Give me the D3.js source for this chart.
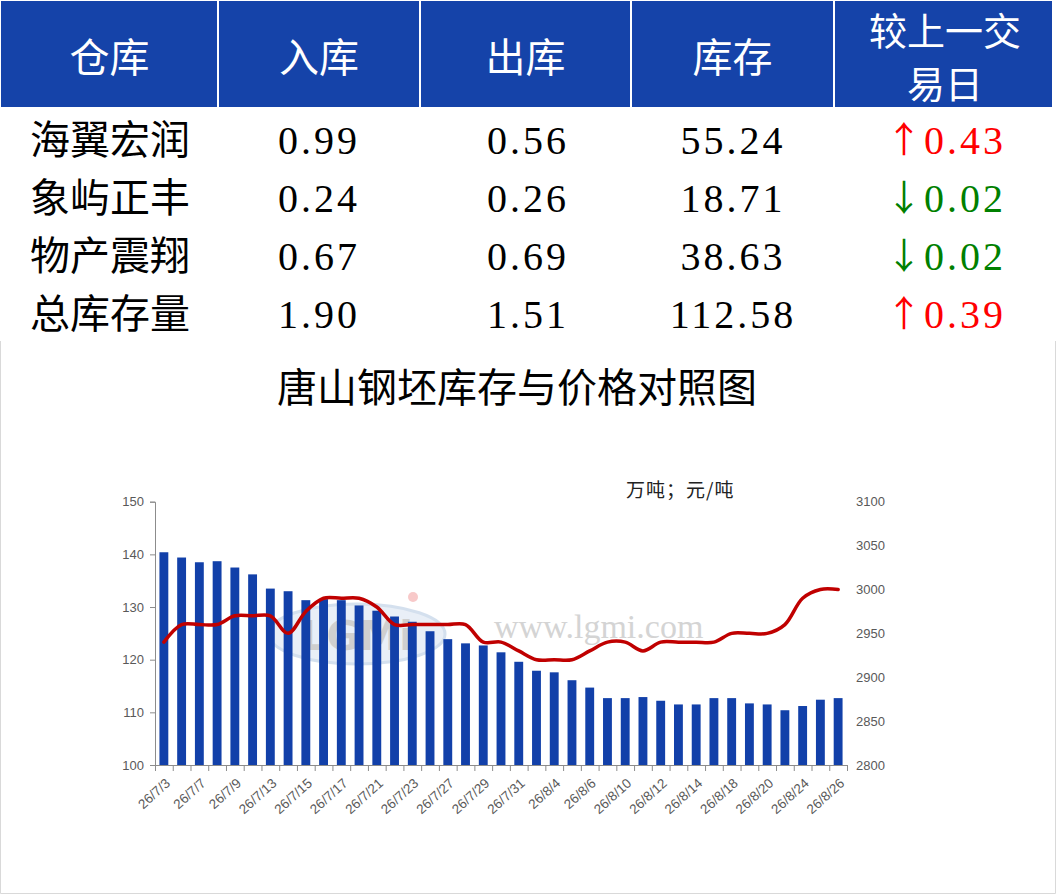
<!DOCTYPE html>
<html>
<head>
<meta charset="utf-8">
<script src="https://cdn.jsdelivr.net/npm/d3@7"></script>
<style>
  body { margin: 0; background: #fff; }
  svg { display: block; }
</style>
</head>
<body>
<script>
// table data
var headers = ['仓库', '入库', '出库', '库存', ['较上一交', '易日']];
var warehouses = ['海翼宏润', '象屿正丰', '物产震翔', '总库存量'];
var inflow = [0.99, 0.24, 0.67, 1.90];
var outflow = [0.56, 0.26, 0.69, 1.51];
var stock = [55.24, 18.71, 38.63, 112.58];
var change = [0.43, -0.02, -0.02, 0.39];

// chart data
var dates = ['26/7/3', '26/7/6', '26/7/7', '26/7/8', '26/7/9', '26/7/10',
  '26/7/13', '26/7/14', '26/7/15', '26/7/16', '26/7/17', '26/7/20',
  '26/7/21', '26/7/22', '26/7/23', '26/7/24', '26/7/27', '26/7/28',
  '26/7/29', '26/7/30', '26/7/31', '26/8/3', '26/8/4', '26/8/5',
  '26/8/6', '26/8/7', '26/8/10', '26/8/11', '26/8/12', '26/8/13',
  '26/8/14', '26/8/17', '26/8/18', '26/8/19', '26/8/20', '26/8/21',
  '26/8/24', '26/8/25', '26/8/26'];
var inventory = [140.4, 139.4, 138.5, 138.7, 137.5, 136.2, 133.5, 133.0,
  131.3, 131.5, 131.3, 130.3, 129.3, 128.2, 127.2, 125.4, 123.9, 123.1,
  122.7, 121.4, 119.6, 117.9, 117.6, 116.1, 114.7, 112.7, 112.7, 112.9,
  112.2, 111.5, 111.5, 112.7, 112.7, 111.7, 111.5, 110.4, 111.2, 112.4, 112.7];
var price = [2940, 2960, 2960, 2960, 2970, 2970, 2970, 2950, 2975, 2990,
  2990, 2990, 2980, 2960, 2960, 2960, 2960, 2960, 2940, 2940, 2930, 2920,
  2920, 2920, 2930, 2940, 2940, 2930, 2940, 2940, 2940, 2940, 2950, 2950,
  2950, 2960, 2990, 3000, 3000];
var leftTicks = [100, 110, 120, 130, 140, 150];
var rightTicks = [2800, 2850, 2900, 2950, 3000, 3050, 3100];

var W = 1057, H = 895;
var svg = d3.select('body').append('svg')
  .attr('width', W)
  .attr('height', H);

var cjk = '"Noto Sans CJK SC", "Noto Sans", sans-serif';
var serifNum = '"Liberation Serif", "DejaVu Serif", serif';

// ---- table ----
var colEdges = [1, 218, 420, 631, 834, 1052];
var colCenters = [110, 319, 528, 733, 965];
var rowY = [140, 198, 256, 314];

svg.append('rect')
  .attr('x', colEdges[0]).attr('y', 1)
  .attr('width', colEdges[5] - colEdges[0]).attr('height', 106)
  .attr('fill', '#1543a9');

svg.selectAll('line.div')
  .data(colEdges.slice(1, 5))
  .enter().append('line')
  .attr('x1', d => d).attr('x2', d => d)
  .attr('y1', 1).attr('y2', 107)
  .attr('stroke', '#fff').attr('stroke-width', 2);

headers.forEach((h, i) => {
  var lines = Array.isArray(h) ? h : [h];
  var cx = (colEdges[i] + colEdges[i + 1]) / 2;
  var two = lines.length > 1;
  lines.forEach((t, j) => {
    svg.append('text')
      .attr('x', two ? cx + 2 : cx)
      .attr('y', two ? 31 + j * 53 : 58)
      .attr('dy', '0.36em')
      .attr('text-anchor', 'middle')
      .attr('fill', '#fff')
      .style('font-family', cjk)
      .style('font-size', two ? '38px' : '40px')
      .text(t);
  });
});

var fmt = d3.format('.2f');

warehouses.forEach((name, r) => {
  var y = rowY[r];
  svg.append('text')
    .attr('x', 30).attr('y', y).attr('dy', '0.36em')
    .style('font-family', cjk).style('font-size', '40px')
    .attr('fill', '#000')
    .text(name);

  [inflow[r], outflow[r], stock[r]].forEach((v, c) => {
    svg.append('text')
      .attr('x', colCenters[c + 1]).attr('y', y).attr('dy', '0.34em')
      .attr('text-anchor', 'middle')
      .style('font-family', serifNum).style('font-size', '40px')
      .style('letter-spacing', '3px')
      .attr('fill', '#000')
      .text(fmt(v));
  });

  var up = change[r] >= 0;
  var col = up ? '#ff0000' : '#008000';
  svg.append('text')
    .attr('x', 904).attr('y', y).attr('dy', '0.36em')
    .attr('text-anchor', 'middle')
    .style('font-family', cjk).style('font-size', '36px')
    .attr('fill', col)
    .text(up ? '↑' : '↓');
  svg.append('text')
    .attr('x', 924).attr('y', y).attr('dy', '0.34em')
    .style('font-family', serifNum).style('font-size', '40px')
    .style('letter-spacing', '3px')
    .attr('fill', col)
    .text(fmt(Math.abs(change[r])));
});

// ---- chart panel ----
svg.append('path')
  .attr('d', 'M0.5,341 V893.5 H1055.5 V341')
  .attr('fill', 'none')
  .attr('stroke', '#d9d9d9');

svg.append('text')
  .attr('x', 517).attr('y', 388).attr('dy', '0.36em')
  .attr('text-anchor', 'middle')
  .style('font-family', cjk).style('font-size', '40px')
  .attr('fill', '#000')
  .text('唐山钢坯库存与价格对照图');

svg.append('text')
  .attr('x', 626).attr('y', 490).attr('dy', '0.36em')
  .style('font-family', cjk).style('font-size', '19px')
  .style('letter-spacing', '1px')
  .attr('fill', '#222')
  .text('万吨；元/吨');

// plot box (avoid window.top)
var plotL = 155, plotR = 847, plotT = 501.7, plotB = 765;

var x = d3.scaleBand()
  .domain(dates)
  .range([plotL, plotR])
  .paddingInner(0.5)
  .paddingOuter(0.25);

var xEdge = d3.scaleLinear().domain([0, dates.length]).range([plotL, plotR]);
var yL = d3.scaleLinear().domain([100, 150]).range([plotB, plotT]);
var yR = d3.scaleLinear().domain([2800, 3100]).range([plotB, plotT]);

// watermark behind the marks
var wm = svg.append('g').attr('opacity', 0.6);
wm.append('ellipse')
  .attr('cx', 357).attr('cy', 634).attr('rx', 88).attr('ry', 30)
  .attr('fill', '#dce6f2').attr('stroke', '#b8cce4').attr('stroke-width', 3);
wm.append('text')
  .attr('x', 357).attr('y', 636).attr('dy', '0.36em')
  .attr('text-anchor', 'middle')
  .style('font-family', '"DejaVu Sans", sans-serif')
  .style('font-size', '40px').style('font-weight', 'bold')
  .attr('fill', '#b0b0b0')
  .text('LGMi');
wm.append('circle')
  .attr('cx', 413).attr('cy', 597).attr('r', 5).attr('fill', '#f4a6a6');
svg.append('text')
  .attr('x', 494).attr('y', 626).attr('dy', '0.36em')
  .style('font-family', serifNum).style('font-size', '34px')
  .attr('fill', '#d4d4d4')
  .text('www.lgmi.com');

// bars
svg.append('g').selectAll('rect')
  .data(inventory)
  .enter().append('rect')
  .attr('x', (d, i) => x(dates[i]))
  .attr('y', d => yL(d))
  .attr('width', x.bandwidth())
  .attr('height', d => yL(100) - yL(d))
  .attr('fill', '#1240a9');

// price line
var line = d3.line()
  .x((d, i) => x(dates[i]) + x.bandwidth() / 2)
  .y(d => yR(d))
  .curve(d3.curveCatmullRom.alpha(0.5));

svg.append('path')
  .datum(price)
  .attr('d', line)
  .attr('fill', 'none')
  .attr('stroke', '#c00000')
  .attr('stroke-width', 3.5)
  .attr('stroke-linejoin', 'round')
  .attr('stroke-linecap', 'round');

// axes
var axisColor = '#8c8c8c';
var labelColor = '#595959';
var tickFont = '"Liberation Sans", "Noto Sans", sans-serif';

var gL = svg.append('g')
  .attr('transform', 'translate(' + plotL + ',0)')
  .call(d3.axisLeft(yL).tickValues(leftTicks).tickSize(5).tickPadding(6));
gL.select('.domain').attr('stroke', axisColor);
gL.selectAll('.tick line').attr('stroke', axisColor);
gL.selectAll('.tick text')
  .attr('fill', labelColor)
  .style('font-family', tickFont).style('font-size', '13px');

var gR = svg.append('g')
  .attr('transform', 'translate(' + plotR + ',0)')
  .call(d3.axisRight(yR).tickValues(rightTicks).tickSize(0).tickPadding(9)
    .tickFormat(d3.format('d')));
gR.select('.domain').remove();
gR.selectAll('.tick text')
  .attr('fill', labelColor)
  .style('font-family', tickFont).style('font-size', '13px');

// x axis: tick marks on category edges
var gX = svg.append('g')
  .attr('transform', 'translate(0,' + plotB + ')')
  .call(d3.axisBottom(xEdge).tickValues(d3.range(dates.length + 1))
    .tickSize(6).tickFormat(''));
gX.select('.domain').attr('stroke', axisColor);
gX.selectAll('.tick line').attr('stroke', axisColor);

// x labels, every other date
var gXL = svg.append('g')
  .attr('transform', 'translate(0,' + plotB + ')')
  .call(d3.axisBottom(x).tickValues(dates.filter((d, i) => i % 2 == 0))
    .tickSize(0).tickPadding(0));
gXL.select('.domain').remove();
gXL.selectAll('.tick text')
  .attr('fill', labelColor)
  .style('font-family', tickFont).style('font-size', '13.5px')
  .attr('text-anchor', 'end')
  .attr('dy', '0.35em')
  .attr('transform', 'translate(4,16) rotate(-42)');
</script>
</body>
</html>
